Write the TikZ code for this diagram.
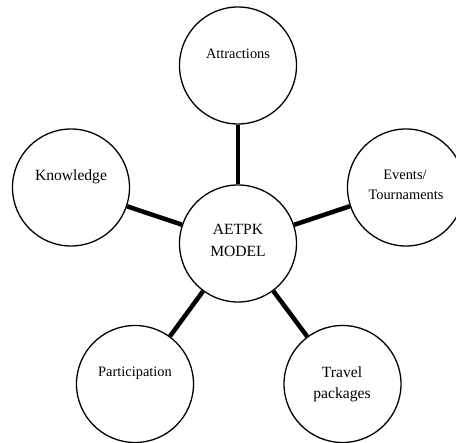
\documentclass[tikz,border=0pt]{standalone}
\usepackage{fontspec}
\setmainfont{Liberation Serif}
\begin{document}
\begin{tikzpicture}[x=1pt,y=-1pt,
  bubble/.style={circle,draw=black,line width=1.3pt,minimum size=117pt,inner sep=0pt,fill=white},
  link/.style={line width=4.5pt,black},
  lblA/.style={anchor=base,inner sep=0pt,font=\fontsize{14.4}{20}\selectfont},
  lblB/.style={anchor=base,inner sep=0pt,font=\fontsize{15.6}{22}\selectfont}]
\useasboundingbox (0,0) rectangle (456,443);
\node[bubble] (c) at (238,243.5) {};
\node[bubble] (a) at (238,65.5) {};
\node[bubble] (k) at (71,187.5) {};
\node[bubble] (e) at (406,187.5) {};
\node[bubble] (p) at (135,384) {};
\node[bubble] (t) at (342.5,384) {};
\draw[link] (c) -- (a);
\draw[link] (c) -- (k);
\draw[link] (c) -- (e);
\draw[link] (c) -- (p);
\draw[link] (c) -- (t);
\node[lblA] (la) at (238,59) {Attractions};
\node[lblB] (lk) at (71,181) {Knowledge};
\node[lblA] (le1) at (405,180) {Events/};
\node[lblA] (le2) at (406,200) {Tournaments};
\node[lblB] (lc1) at (238,235) {AETPK};
\node[lblB] (lc2) at (238,257) {MODEL};
\node[lblA] (lp) at (135,377) {Participation};
\node[lblB] (lt1) at (342,378) {Travel};
\node[lblB] (lt2) at (342,399) {packages};
\end{tikzpicture}
\end{document}
